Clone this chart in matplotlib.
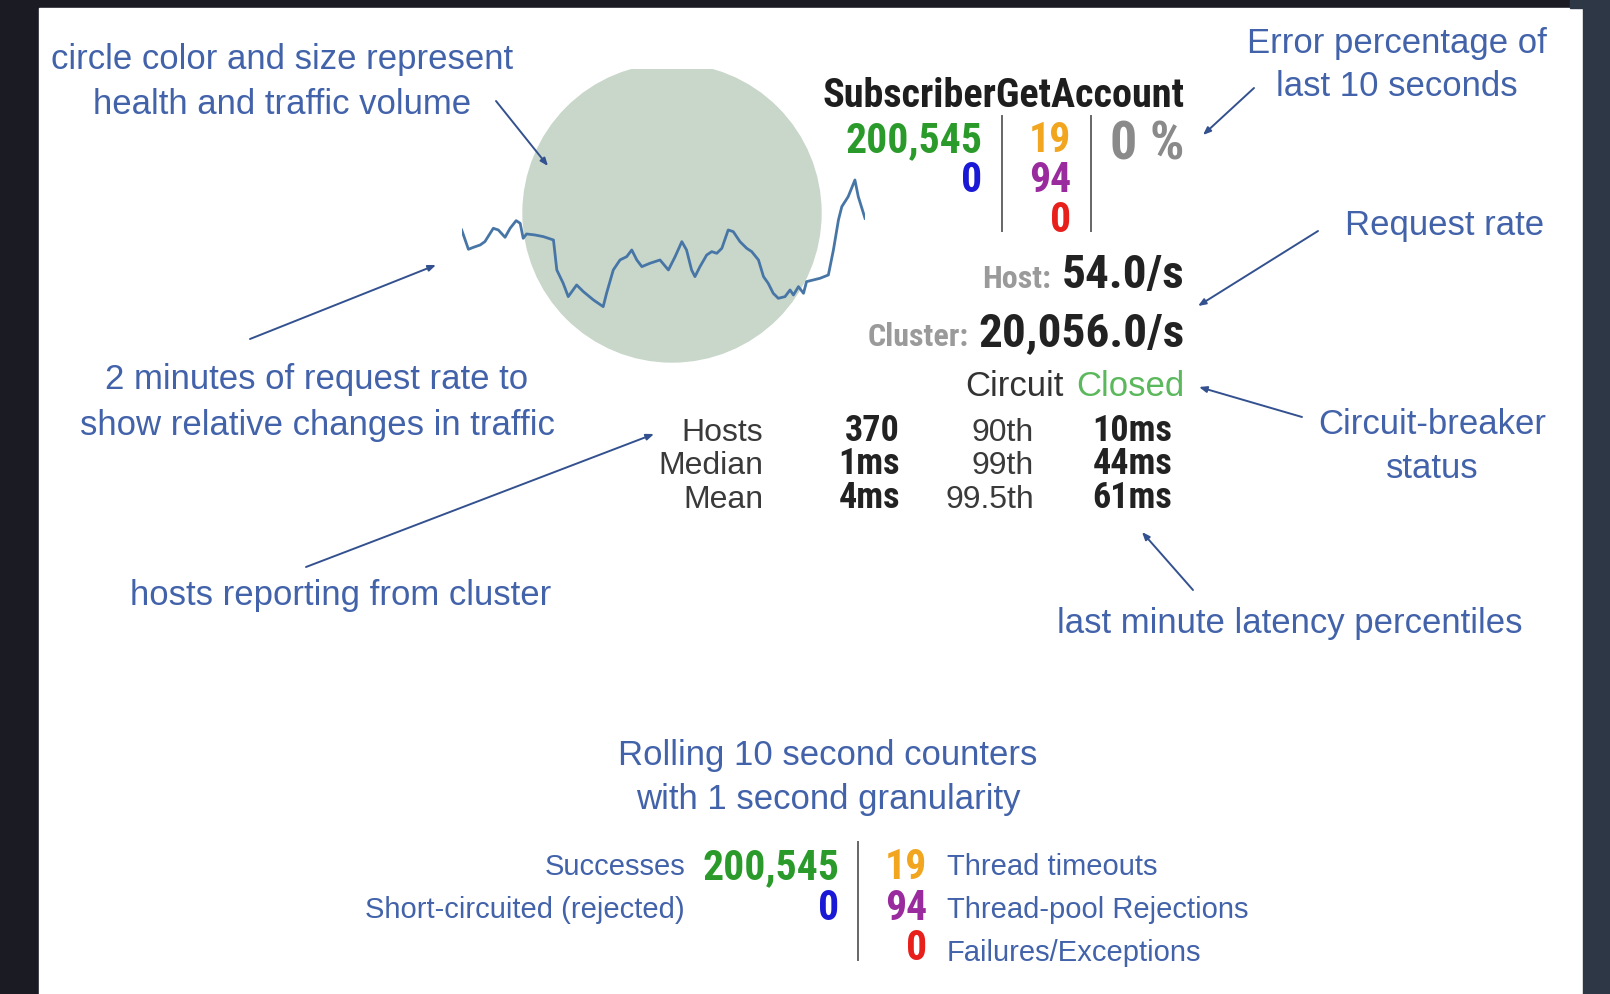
import matplotlib.pyplot as plt
from matplotlib import font_manager as fm
from matplotlib.patches import Circle, Rectangle

# request rate over the last 2 minutes (seconds, req/s scaled)
spark_t = [0.0, 2.0, 3.5, 5.5, 6.9, 9.4, 10.9, 12.9, 14.4, 16.2, 17.4, 18.3, 19.3, 21.8,
           24.3, 27.3, 28.3, 30.2, 31.7, 34.2, 36.2, 39.2, 42.1, 43.1, 45.1, 47.1, 49.1,
           50.6, 52.1, 53.6, 56.0, 59.0, 61.5, 63.5, 65.5, 66.9, 68.4, 69.4, 70.9, 72.9,
           74.4, 75.9, 77.4, 79.3, 80.8, 82.8, 84.8, 86.3, 88.3, 89.8, 91.2, 92.7, 94.2,
           96.2, 97.7, 98.7, 100.2, 101.7, 102.6, 104.6, 106.6, 109.1, 110.6, 112.1,
           113.1, 115.0, 117.0, 118.0, 120.0]
spark_rate = [25.0, 19.2, 19.8, 20.5, 21.5, 25.5, 25.0, 22.8, 25.5, 27.8, 27.0, 22.5, 23.8,
              23.5, 23.0, 22.0, 13.0, 9.0, 5.0, 8.5, 6.5, 4.0, 2.0, 6.0, 13.0, 16.0, 17.0,
              19.0, 16.0, 14.0, 15.0, 16.0, 13.0, 17.0, 21.5, 19.0, 13.0, 11.0, 14.0, 17.5,
              18.5, 18.0, 19.5, 25.0, 24.5, 21.5, 19.5, 18.5, 16.0, 11.0, 9.0, 6.0, 4.5,
              5.0, 7.0, 5.5, 8.0, 6.0, 9.5, 10.0, 10.5, 11.5, 19.0, 28.0, 32.0, 35.0, 40.0,
              35.0, 28.5]

command = "SubscriberGetAccount"
successes = "200,545"
short_circuited = "0"
timeouts = "19"
rejections = "94"
failures = "0"
error_pct = "0 %"
host_rate = "54.0/s"
cluster_rate = "20,056.0/s"
circuit_state = "Closed"

stat_labels = ["Hosts", "Median", "Mean"]
stat_values = ["370", "1ms", "4ms"]
pct_labels = ["90th", "99th", "99.5th"]
pct_values = ["10ms", "44ms", "61ms"]

counter_labels_left = ["Successes", "Short-circuited (rejected)"]
counter_labels_right = ["Thread timeouts", "Thread-pool Rejections", "Failures/Exceptions"]

# condensed bold font for the numbers if we have one
names = {f.name for f in fm.fontManager.ttflist}
k = 0.82
numfam = "Liberation Sans"
for cand in ["Roboto Condensed", "Liberation Sans Narrow", "DejaVu Sans Condensed"]:
    if cand in names:
        numfam = cand
        k = 1.0
        break

REG = "Liberation Sans"
BLUE = "#4262aa"
ARROW = "#34518f"
GREEN = "#2a9a2a"
NBLUE = "#1a1ad6"
ORANGE = "#f2a61f"
PURPLE = "#9a2b9e"
RED = "#e8201c"


def num(size, color):
    return dict(family=numfam, weight="bold", fontsize=size * k, color=color)


fig = plt.figure(figsize=(16.1, 9.94), dpi=100, facecolor="#1b1b24")
ax = fig.add_axes([0, 0, 1, 1])
ax.set_xlim(0, 1610)
ax.set_ylim(994, 0)
ax.axis("off")

# page background
ax.add_patch(Rectangle((39, 8), 1544, 986, color="white", zorder=0))
ax.add_patch(Rectangle((1583, 0), 27, 994, color="#2e3746", zorder=0))
ax.add_patch(Rectangle((1570, 0), 40, 8, color="#2e3746", zorder=0))

# health circle (top is cut off)
circ = Circle((672, 213), 149, color="#c9d7cb", zorder=1)
ax.add_patch(circ)
clip = Rectangle((0, 69), 1610, 925, transform=ax.transData)
circ.set_clip_path(clip)

# sparkline
sax = fig.add_axes([461.7 / 1610, 1 - 313.3 / 994, 403.3 / 1610, 150 / 994])
sax.set_xlim(0, 120)
sax.set_ylim(0, 45)
sax.axis("off")
sax.patch.set_alpha(0)
sax.plot(spark_t, spark_rate, color="#4776a6", lw=2.0)

renderer = fig.canvas.get_renderer()


def pair(xr, y, left, right, lkw, rkw, gap):
    t = ax.text(xr, y, right, ha="right", va="baseline", **rkw)
    bb = t.get_window_extent(renderer=renderer)
    x0 = ax.transData.inverted().transform((bb.x0, bb.y0))[0]
    ax.text(x0 - gap, y, left, ha="right", va="baseline", **lkw)


# command box
ax.text(1184, 107, command, ha="right", va="baseline", **num(29, "#1e1e1e"))
ax.text(982, 152, successes, ha="right", va="baseline", **num(30, GREEN))
ax.text(982, 192, short_circuited, ha="right", va="baseline", **num(30, NBLUE))
ax.text(1071, 152, timeouts, ha="right", va="baseline", **num(30, ORANGE))
ax.text(1071, 192, rejections, ha="right", va="baseline", **num(30, PURPLE))
ax.text(1071, 232, failures, ha="right", va="baseline", **num(30, RED))
ax.text(1184, 159, error_pct, ha="right", va="baseline", **num(39, "#8a8a8a"))
ax.plot([1002, 1002], [116, 231], color="#666666", lw=1.4)
ax.plot([1091, 1091], [116, 231], color="#666666", lw=1.4)

pair(1184, 288, "Host:", host_rate, num(23, "#9a9a9a"), num(34, "#222222"), 10)
pair(1184, 346, "Cluster:", cluster_rate, num(23, "#9a9a9a"), num(34, "#222222"), 9)
pair(1184, 396, "Circuit", circuit_state,
     dict(family=REG, fontsize=25, color="#333333"),
     dict(family=REG, fontsize=25, color="#5cb85c"), 12)

row_y = [441, 474, 508]
for i in range(3):
    ax.text(763, row_y[i], stat_labels[i], ha="right", va="baseline",
            family=REG, fontsize=23, color="#3a3a3a")
    ax.text(900, row_y[i], stat_values[i], ha="right", va="baseline", **num(26, "#222222"))
    ax.text(1034, row_y[i], pct_labels[i], ha="right", va="baseline",
            family=REG, fontsize=23, color="#3a3a3a")
    ax.text(1172, row_y[i], pct_values[i], ha="right", va="baseline", **num(26, "#222222"))

# annotations
notes = [
    ("circle color and size represent", 282, 57),
    ("health and traffic volume", 282, 101),
    ("2 minutes of request rate to", 317, 377),
    ("show relative changes in traffic", 317, 422),
    ("hosts reporting from cluster", 341, 592),
    ("Error percentage of", 1397, 40),
    ("last 10 seconds", 1397, 84),
    ("Request rate", 1445, 223),
    ("Circuit-breaker", 1432, 421),
    ("status", 1432, 466),
    ("last minute latency percentiles", 1290, 620),
    ("Rolling 10 second counters", 828, 753),
    ("with 1 second granularity", 828, 797),
]
for s, x, y in notes:
    ax.text(x, y + 3, s, ha="center", va="center", family=REG, fontsize=25, color=BLUE)

arrows = [
    ((496, 101), (548, 166)),
    ((250, 339), (436, 265)),
    ((306, 567), (654, 434)),
    ((1254, 88), (1203, 135)),
    ((1318, 231), (1198, 306)),
    ((1302, 417), (1199, 387)),
    ((1193, 590), (1142, 532)),
]
for a, b in arrows:
    ax.annotate("", xy=b, xytext=a,
                arrowprops=dict(arrowstyle="-|>,head_length=0.45,head_width=0.18",
                                color=ARROW, lw=1.4, shrinkA=0, shrinkB=0))

# rolling counters legend
ax.text(685, 875, counter_labels_left[0], ha="right", va="baseline",
        family=REG, fontsize=21, color=BLUE)
ax.text(685, 918, counter_labels_left[1], ha="right", va="baseline",
        family=REG, fontsize=21, color=BLUE)
ax.text(839, 879, successes, ha="right", va="baseline", **num(30, GREEN))
ax.text(839, 920, short_circuited, ha="right", va="baseline", **num(30, NBLUE))
ax.plot([858, 858], [842, 960], color="#666666", lw=1.4)
ax.text(927, 879, timeouts, ha="right", va="baseline", **num(30, ORANGE))
ax.text(927, 920, rejections, ha="right", va="baseline", **num(30, PURPLE))
ax.text(927, 960, failures, ha="right", va="baseline", **num(30, RED))
for i, y in enumerate([875, 918, 961]):
    ax.text(947, y, counter_labels_right[i], ha="left", va="baseline",
            family=REG, fontsize=21, color=BLUE)

fig.savefig("out.png", dpi=100, facecolor=fig.get_facecolor())
